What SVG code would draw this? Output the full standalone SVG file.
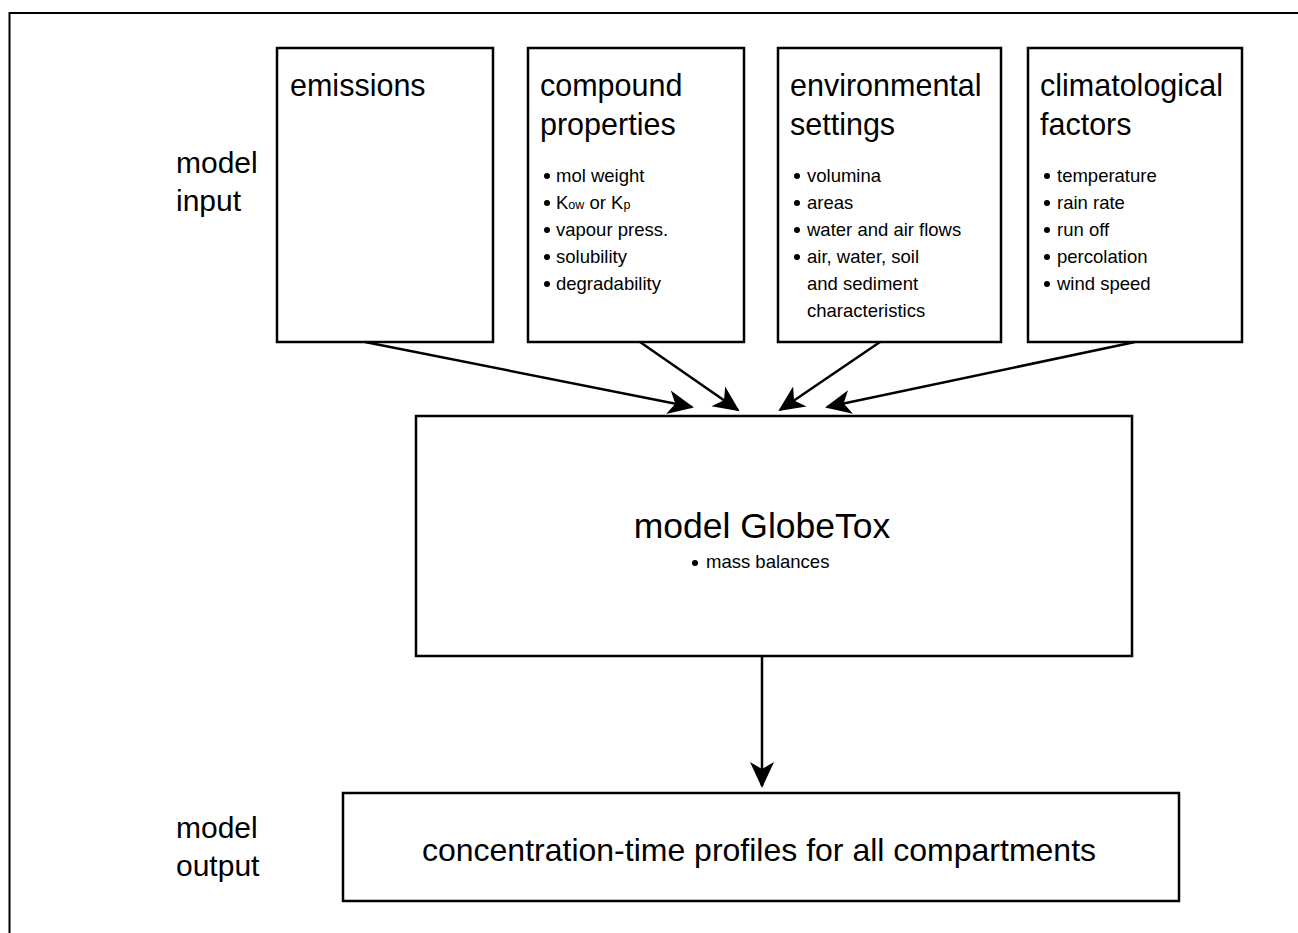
<svg xmlns="http://www.w3.org/2000/svg" width="1298" height="933" viewBox="0 0 1298 933">
  <style>
    .box { fill: #fff; stroke: #000; stroke-width: 2.5; }
    .title { font-family: "Liberation Sans", Arial, sans-serif; font-size: 30.5px; fill: #000; }
    .item { font-family: "Liberation Sans", Arial, sans-serif; font-size: 18.5px; fill: #000; }
    .side { font-family: "Liberation Sans", Arial, sans-serif; font-size: 30px; fill: #000; }
    .dot { fill: #000; }
    .conn { stroke: #000; stroke-width: 2.5; fill: none; }
  </style>
  <defs>
    <marker id="arrow" viewBox="0 0 26 26" refX="24" refY="13" markerWidth="26" markerHeight="26" markerUnits="userSpaceOnUse" orient="auto">
      <path d="M0,1 L26,13 L0,25 L7,13 Z" fill="#000"/>
    </marker>
  </defs>

  <rect width="1298" height="933" fill="#fff"/>
  <!-- outer frame (right and bottom edges run off the page) -->
  <path d="M9.5,933 V13 H1298" fill="none" stroke="#000" stroke-width="2"/>

  <!-- side labels -->
  <g id="label-input">
    <text class="side" x="176" y="173">model</text>
    <text class="side" x="176" y="211">input</text>
  </g>
  <g id="label-output">
    <text class="side" x="176" y="838">model</text>
    <text class="side" x="176" y="876">output</text>
  </g>

  <g id="emissions">
    <rect class="box" x="277" y="48" width="216" height="294"/>
    <text class="title" x="290" y="96">emissions</text>
  </g>

  <g id="compound">
    <rect class="box" x="528" y="48" width="216" height="294"/>
    <text class="title" x="540" y="96">compound</text>
    <text class="title" x="540" y="135">properties</text>
    <circle class="dot" cx="547" cy="176" r="3"/>
    <circle class="dot" cx="547" cy="203" r="3"/>
    <circle class="dot" cx="547" cy="230" r="3"/>
    <circle class="dot" cx="547" cy="257" r="3"/>
    <circle class="dot" cx="547" cy="284" r="3"/>
    <text class="item" x="556" y="182">mol weight</text>
    <text class="item" x="556" y="209">K<tspan font-size="12.5">ow</tspan> or K<tspan font-size="12.5">p</tspan></text>
    <text class="item" x="556" y="236">vapour press.</text>
    <text class="item" x="556" y="263">solubility</text>
    <text class="item" x="556" y="290">degradability</text>
  </g>

  <g id="environmental">
    <rect class="box" x="778" y="48" width="223" height="294"/>
    <text class="title" x="790" y="96">environmental</text>
    <text class="title" x="790" y="135">settings</text>
    <circle class="dot" cx="797" cy="176" r="3"/>
    <circle class="dot" cx="797" cy="203" r="3"/>
    <circle class="dot" cx="797" cy="230" r="3"/>
    <circle class="dot" cx="797" cy="257" r="3"/>
    <text class="item" x="807" y="182">volumina</text>
    <text class="item" x="807" y="209">areas</text>
    <text class="item" x="807" y="236">water and air flows</text>
    <text class="item" x="807" y="263">air, water, soil</text>
    <text class="item" x="807" y="290">and sediment</text>
    <text class="item" x="807" y="317">characteristics</text>
  </g>

  <g id="climatological">
    <rect class="box" x="1028" y="48" width="214" height="294"/>
    <text class="title" x="1040" y="96">climatological</text>
    <text class="title" x="1040" y="135">factors</text>
    <circle class="dot" cx="1047" cy="176" r="3"/>
    <circle class="dot" cx="1047" cy="203" r="3"/>
    <circle class="dot" cx="1047" cy="230" r="3"/>
    <circle class="dot" cx="1047" cy="257" r="3"/>
    <circle class="dot" cx="1047" cy="284" r="3"/>
    <text class="item" x="1057" y="182">temperature</text>
    <text class="item" x="1057" y="209">rain rate</text>
    <text class="item" x="1057" y="236">run off</text>
    <text class="item" x="1057" y="263">percolation</text>
    <text class="item" x="1057" y="290">wind speed</text>
  </g>

  <g id="globetox">
    <rect class="box" x="416" y="416" width="716" height="240"/>
    <text font-family="Liberation Sans, Arial, sans-serif" font-size="35.5" x="762" y="538" text-anchor="middle">model GlobeTox</text>
    <circle class="dot" cx="695" cy="563" r="3"/>
    <text class="item" x="706" y="568">mass balances</text>
  </g>

  <g id="output">
    <rect class="box" x="343" y="793" width="836" height="108"/>
    <text font-family="Liberation Sans, Arial, sans-serif" font-size="32" x="759" y="861" text-anchor="middle">concentration-time profiles for all compartments</text>
  </g>

  <g id="connectors">
    <line class="conn" x1="365" y1="342" x2="692" y2="407" marker-end="url(#arrow)"/>
    <line class="conn" x1="640" y1="342" x2="738" y2="410" marker-end="url(#arrow)"/>
    <line class="conn" x1="880" y1="342" x2="780" y2="410" marker-end="url(#arrow)"/>
    <line class="conn" x1="1135" y1="342" x2="827" y2="407" marker-end="url(#arrow)"/>
    <line class="conn" x1="762" y1="656" x2="762" y2="786" marker-end="url(#arrow)"/>
  </g>
</svg>
